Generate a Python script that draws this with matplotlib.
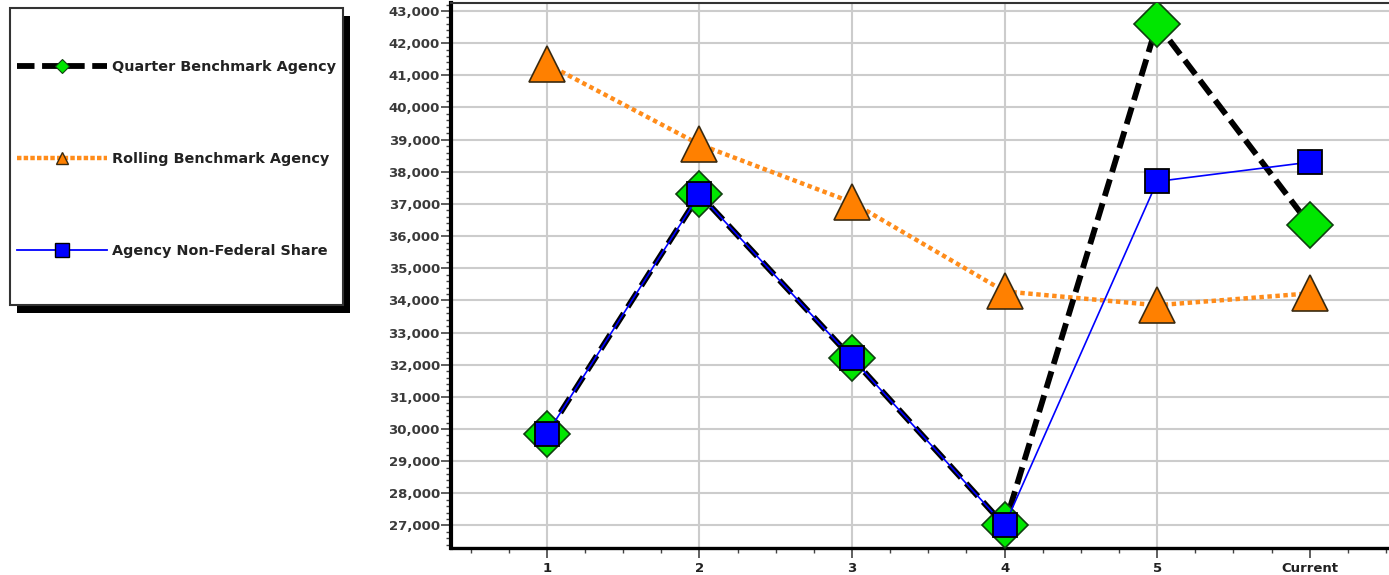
import numpy as np
import matplotlib
matplotlib.use("Agg")
import matplotlib.pyplot as plt
from matplotlib.lines import Line2D
from matplotlib.patches import Rectangle
from matplotlib.ticker import MultipleLocator, FuncFormatter

periods = ["1", "2", "3", "4", "5", "Current"]
quarter_bench = [29850, 37300, 32200, 27000, 42600, 36350]
rolling_bench = [41350, 38850, 37050, 34280, 33850, 34220]
agency_share = [29850, 37300, 32200, 27000, 37700, 38300]

W, H = 1389, 575
fig = plt.figure(figsize=(W / 100, H / 100), dpi=100)
ax = fig.add_axes([451 / W, 1 - 548 / H, 1 - 451 / W, (548 - 3) / H])

x = np.arange(1, len(periods) + 1)

orange = "#ff8000"
green = "#00e600"
blue = "#0000ff"

# grid first, so it stays behind
ax.set_axisbelow(True)
ax.grid(axis="y", which="major", color="#cccccc", lw=1.5)
for xv in x[:-1]:
    ax.axvline(xv, color="#cccccc", lw=1.5, zorder=0.5)

ax.plot(x, rolling_bench, color="#ff8c1a", lw=3.2, dashes=(1, 0.8),
        marker="^", ms=26, mfc=orange, mec="#3a2a10", mew=1.2, zorder=2)
ax.plot(x, quarter_bench, color="black", lw=4.2, dashes=(3, 1.3),
        marker="D", ms=23.5, mfc=green, mec="#104010", mew=1.2, zorder=3)
ax.plot(x, agency_share, color=blue, lw=1.2,
        marker="s", ms=17, mfc=blue, mec="black", mew=1.3, zorder=4)

ax.set_xlim(0.371, 6.52)
ax.set_ylim(26300, 43250)
ax.set_xticks(x)
ax.set_xticklabels(periods, fontsize=9.5, fontweight="bold", color="#222222")
ax.xaxis.set_minor_locator(MultipleLocator(0.25))
ax.yaxis.set_major_locator(MultipleLocator(1000))
ax.yaxis.set_minor_locator(MultipleLocator(200))
ax.yaxis.set_major_formatter(FuncFormatter(lambda v, p: f"{int(v):,}"))
for lab in ax.get_yticklabels():
    lab.set_fontsize(9.5)
    lab.set_fontweight("bold")
    lab.set_color("#3a3a3a")

ax.tick_params(axis="both", which="major", length=7, width=1.2, color="#444444")
ax.tick_params(axis="both", which="minor", length=3.5, width=1.0, color="#444444")
ax.tick_params(axis="y", pad=1)
ax.tick_params(axis="x", pad=3)

ax.spines["left"].set_linewidth(3)
ax.spines["bottom"].set_linewidth(2.4)
ax.spines["top"].set_linewidth(1.5)
ax.spines["top"].set_color("#333333")
ax.spines["right"].set_visible(False)

# legend box with black drop shadow
bx0, by0, bx1, by1 = 10, 8, 343, 305
fig.patches.append(Rectangle((bx0 / W + 7 / W, 1 - (by1 + 8) / H), (bx1 - bx0) / W, (by1 - by0) / H,
                             transform=fig.transFigure, facecolor="black", edgecolor="none", zorder=1))
fig.patches.append(Rectangle((bx0 / W, 1 - by1 / H), (bx1 - bx0) / W, (by1 - by0) / H,
                             transform=fig.transFigure, facecolor="white", edgecolor="#333333",
                             lw=1.5, zorder=2))

handles = [
    Line2D([], [], color="black", lw=4.2, dashes=(3, 1.3), marker="D", ms=7,
           mfc=green, mec="#104010", mew=0.8),
    Line2D([], [], color="#ff8c1a", lw=3.2, dashes=(1, 0.5), marker="^", ms=9,
           mfc=orange, mec="#3a2a10", mew=1.0),
    Line2D([], [], color=blue, lw=1.3, marker="s", ms=10, mfc=blue, mec="black", mew=1.0),
]
labels = ["Quarter Benchmark Agency", "Rolling Benchmark Agency", "Agency Non-Federal Share"]
fig.legend(handles, labels, loc="upper left", bbox_to_anchor=(17 / W, 1 - 60 / H),
           frameon=False, borderpad=0, borderaxespad=0, handlelength=6.2,
           handletextpad=0.4, labelspacing=5.4, numpoints=1,
           prop={"size": 10.4, "weight": "bold"}, labelcolor="#222222")

fig.savefig("out.png", dpi=100)
